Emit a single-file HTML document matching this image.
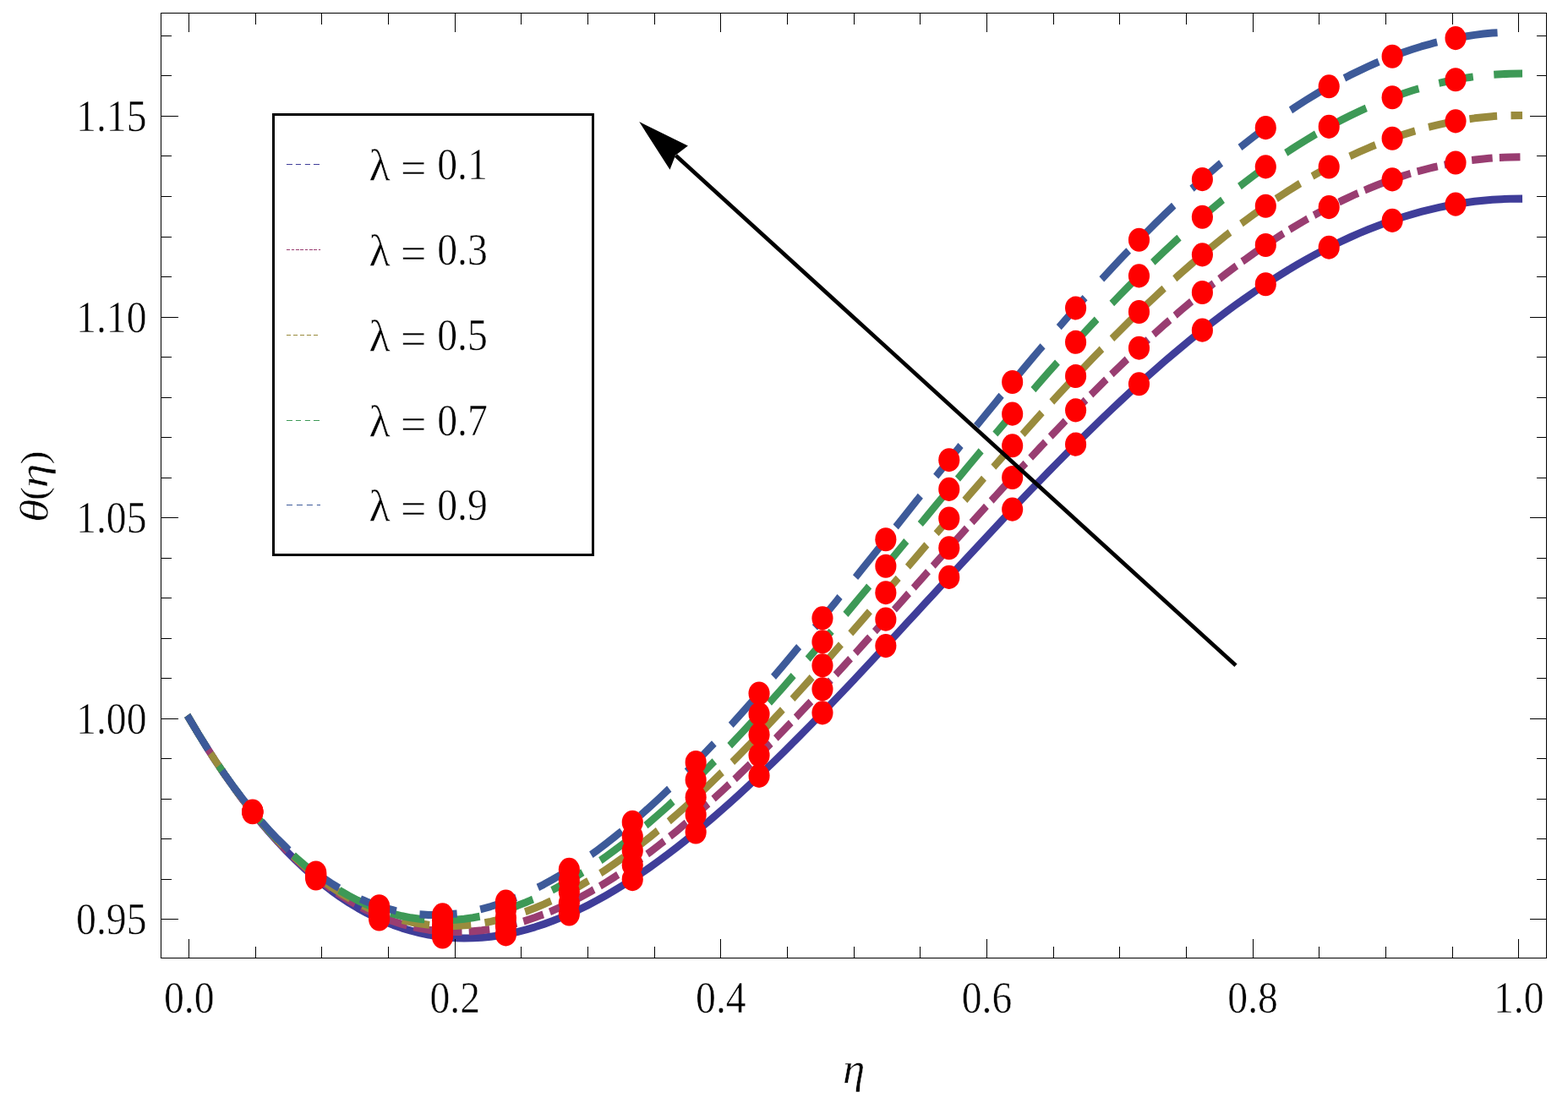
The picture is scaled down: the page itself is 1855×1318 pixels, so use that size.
<!DOCTYPE html>
<html lang="en"><head><meta charset="utf-8"><title>θ(η) for varying λ</title>
<style>html,body{margin:0;padding:0;background:#fff}body{width:1855px;height:1318px;overflow:hidden}svg{display:block}text{font-family:"Liberation Serif","DejaVu Serif",serif;fill:#000;stroke:#fff;stroke-width:.5px;paint-order:fill stroke}</style></head><body>
<svg width="1855" height="1318" viewBox="0 0 1855 1318" role="img" aria-label="Plot of θ(η) against η for λ = 0.1, 0.3, 0.5, 0.7, 0.9">
<rect width="1855" height="1318" fill="#fff"/>
<g transform="scale(1,1.1)" fill="none" stroke-width="8.2" stroke-linecap="square" stroke-linejoin="round">
<path d="M223.92 772.95 L234.41 788.97 L244.89 804.37 L255.38 819.15 L265.87 833.31 L276.35 846.87 L286.84 859.83 L297.33 872.20 L307.81 883.97 L318.30 895.17 L328.79 905.79 L339.27 915.85 L349.76 925.34 L360.25 934.29 L370.73 942.68 L381.22 950.54 L391.71 957.87 L402.19 964.67 L412.68 970.95 L423.17 976.73 L433.65 982.00 L444.14 986.78 L454.63 991.07 L465.11 994.88 L475.60 998.22 L486.09 1001.10 L496.57 1003.52 L507.06 1005.49 L517.55 1007.02 L528.03 1008.12 L538.52 1008.80 L549.01 1009.06 L559.49 1008.91 L569.98 1008.36 L580.47 1007.41 L590.95 1006.09 L601.44 1004.38 L611.93 1002.31 L622.41 999.88 L632.90 997.09 L643.39 993.97 L653.87 990.50 L664.36 986.71 L674.85 982.60 L685.33 978.18 L695.82 973.45 L706.31 968.44 L716.79 963.13 L727.28 957.55 L737.77 951.69 L748.25 945.58 L758.74 939.21 L769.23 932.59 L779.71 925.74 L790.20 918.66 L800.69 911.35 L811.17 903.84 L821.66 896.11 L832.15 888.19 L842.63 880.09 L853.12 871.80 L863.61 863.33 L874.09 854.70 L884.58 845.92 L895.07 836.98 L905.55 827.91 L916.04 818.70 L926.53 809.36 L937.01 799.90 L947.50 790.34 L957.99 780.67 L968.47 770.90 L978.96 761.05 L989.45 751.11 L999.93 741.10 L1010.42 731.03 L1020.91 720.89 L1031.39 710.71 L1041.88 700.48 L1052.37 690.21 L1062.85 679.92 L1073.34 669.60 L1083.83 659.26 L1094.31 648.91 L1104.80 638.56 L1115.29 628.22 L1125.77 617.89 L1136.26 607.57 L1146.75 597.28 L1157.23 587.01 L1167.72 576.79 L1178.21 566.60 L1188.69 556.47 L1199.18 546.39 L1209.67 536.37 L1220.15 526.42 L1230.64 516.54 L1241.13 506.74 L1251.61 497.02 L1262.10 487.39 L1272.59 477.86 L1283.07 468.43 L1293.56 459.11 L1304.05 449.90 L1314.53 440.80 L1325.02 431.82 L1335.51 422.97 L1345.99 414.26 L1356.48 405.67 L1366.97 397.23 L1377.45 388.93 L1387.94 380.79 L1398.43 372.79 L1408.91 364.96 L1419.40 357.28 L1429.89 349.77 L1440.37 342.44 L1450.86 335.27 L1461.35 328.28 L1471.83 321.48 L1482.32 314.85 L1492.81 308.42 L1503.29 302.17 L1513.78 296.12 L1524.27 290.27 L1534.75 284.61 L1545.24 279.16 L1555.73 273.91 L1566.21 268.87 L1576.70 264.04 L1587.19 259.42 L1597.67 255.01 L1608.16 250.82 L1618.65 246.85 L1629.13 243.10 L1639.62 239.56 L1650.11 236.25 L1660.59 233.17 L1671.08 230.31 L1681.57 227.67 L1692.05 225.27 L1702.54 223.09 L1713.03 221.14 L1723.51 219.41 L1734.00 217.92 L1744.49 216.66 L1754.97 215.63 L1765.46 214.82 L1775.95 214.25 L1786.43 213.91 L1796.92 213.79" stroke="#3F3D99"/>
<path d="M223.92 772.95 L234.41 788.97 L244.89 804.36 L255.38 819.10 L265.87 833.22 L276.35 846.70 L286.84 859.58 L297.33 871.84 L307.81 883.49 L318.30 894.55 L328.79 905.02 L339.27 914.91 L349.76 924.22 L360.25 932.97 L370.73 941.16 L381.22 948.79 L391.71 955.88 L402.19 962.43 L412.68 968.45 L423.17 973.95 L433.65 978.94 L444.14 983.42 L454.63 987.40 L465.11 990.89 L475.60 993.90 L486.09 996.44 L496.57 998.51 L507.06 1000.13 L517.55 1001.29 L528.03 1002.02 L538.52 1002.31 L549.01 1002.17 L559.49 1001.63 L569.98 1000.67 L580.47 999.32 L590.95 997.57 L601.44 995.44 L611.93 992.94 L622.41 990.07 L632.90 986.85 L643.39 983.28 L653.87 979.36 L664.36 975.12 L674.85 970.55 L685.33 965.67 L695.82 960.48 L706.31 955.00 L716.79 949.23 L727.28 943.17 L737.77 936.84 L748.25 930.25 L758.74 923.41 L769.23 916.32 L779.71 908.98 L790.20 901.42 L800.69 893.64 L811.17 885.64 L821.66 877.44 L832.15 869.05 L842.63 860.46 L853.12 851.69 L863.61 842.75 L874.09 833.65 L884.58 824.39 L895.07 814.98 L905.55 805.43 L916.04 795.75 L926.53 785.95 L937.01 776.03 L947.50 766.00 L957.99 755.87 L968.47 745.65 L978.96 735.34 L989.45 724.96 L999.93 714.50 L1010.42 703.99 L1020.91 693.41 L1031.39 682.79 L1041.88 672.13 L1052.37 661.44 L1062.85 650.72 L1073.34 639.98 L1083.83 629.23 L1094.31 618.47 L1104.80 607.72 L1115.29 596.97 L1125.77 586.24 L1136.26 575.53 L1146.75 564.85 L1157.23 554.21 L1167.72 543.61 L1178.21 533.05 L1188.69 522.55 L1199.18 512.11 L1209.67 501.74 L1220.15 491.44 L1230.64 481.21 L1241.13 471.08 L1251.61 461.03 L1262.10 451.07 L1272.59 441.22 L1283.07 431.48 L1293.56 421.84 L1304.05 412.33 L1314.53 402.93 L1325.02 393.67 L1335.51 384.53 L1345.99 375.53 L1356.48 366.68 L1366.97 357.97 L1377.45 349.41 L1387.94 341.01 L1398.43 332.76 L1408.91 324.68 L1419.40 316.77 L1429.89 309.03 L1440.37 301.47 L1450.86 294.09 L1461.35 286.88 L1471.83 279.87 L1482.32 273.05 L1492.81 266.42 L1503.29 259.98 L1513.78 253.75 L1524.27 247.72 L1534.75 241.90 L1545.24 236.28 L1555.73 230.88 L1566.21 225.68 L1576.70 220.71 L1587.19 215.95 L1597.67 211.41 L1608.16 207.10 L1618.65 203.01 L1629.13 199.14 L1639.62 195.50 L1650.11 192.09 L1660.59 188.92 L1671.08 185.97 L1681.57 183.25 L1692.05 180.77 L1702.54 178.53 L1713.03 176.52 L1723.51 174.74 L1734.00 173.20 L1744.49 171.90 L1754.97 170.83 L1765.46 170.01 L1775.95 169.42 L1786.43 169.06 L1796.92 168.94" stroke="#993D71" stroke-dasharray="16.4025 16.4025" stroke-dashoffset="0"/>
<path d="M223.92 772.95 L234.41 788.98 L244.89 804.34 L255.38 819.05 L265.87 833.12 L276.35 846.53 L286.84 859.32 L297.33 871.48 L307.81 883.01 L318.30 893.94 L328.79 904.25 L339.27 913.97 L349.76 923.11 L360.25 931.65 L370.73 939.63 L381.22 947.04 L391.71 953.89 L402.19 960.19 L412.68 965.95 L423.17 971.17 L433.65 975.87 L444.14 980.06 L454.63 983.73 L465.11 986.90 L475.60 989.58 L486.09 991.78 L496.57 993.50 L507.06 994.76 L517.55 995.56 L528.03 995.91 L538.52 995.82 L549.01 995.29 L559.49 994.35 L569.98 992.98 L580.47 991.22 L590.95 989.05 L601.44 986.50 L611.93 983.57 L622.41 980.27 L632.90 976.60 L643.39 972.59 L653.87 968.23 L664.36 963.53 L674.85 958.51 L685.33 953.16 L695.82 947.51 L706.31 941.56 L716.79 935.32 L727.28 928.80 L737.77 922.00 L748.25 914.93 L758.74 907.61 L769.23 900.04 L779.71 892.23 L790.20 884.19 L800.69 875.93 L811.17 867.45 L821.66 858.77 L832.15 849.90 L842.63 840.83 L853.12 831.59 L863.61 822.17 L874.09 812.59 L884.58 802.86 L895.07 792.98 L905.55 782.96 L916.04 772.81 L926.53 762.54 L937.01 752.16 L947.50 741.67 L957.99 731.08 L968.47 720.40 L978.96 709.64 L989.45 698.81 L999.93 687.91 L1010.42 676.95 L1020.91 665.93 L1031.39 654.88 L1041.88 643.79 L1052.37 632.66 L1062.85 621.52 L1073.34 610.36 L1083.83 599.20 L1094.31 588.03 L1104.80 576.87 L1115.29 565.72 L1125.77 554.60 L1136.26 543.50 L1146.75 532.43 L1157.23 521.41 L1167.72 510.43 L1178.21 499.50 L1188.69 488.64 L1199.18 477.84 L1209.67 467.11 L1220.15 456.46 L1230.64 445.89 L1241.13 435.42 L1251.61 425.03 L1262.10 414.75 L1272.59 404.58 L1283.07 394.52 L1293.56 384.58 L1304.05 374.76 L1314.53 365.07 L1325.02 355.51 L1335.51 346.09 L1345.99 336.81 L1356.48 327.68 L1366.97 318.70 L1377.45 309.88 L1387.94 301.22 L1398.43 292.73 L1408.91 284.41 L1419.40 276.26 L1429.89 268.29 L1440.37 260.50 L1450.86 252.90 L1461.35 245.49 L1471.83 238.27 L1482.32 231.24 L1492.81 224.42 L1503.29 217.80 L1513.78 211.38 L1524.27 205.18 L1534.75 199.18 L1545.24 193.40 L1555.73 187.84 L1566.21 182.50 L1576.70 177.38 L1587.19 172.48 L1597.67 167.81 L1608.16 163.37 L1618.65 159.16 L1629.13 155.19 L1639.62 151.44 L1650.11 147.93 L1660.59 144.66 L1671.08 141.63 L1681.57 138.83 L1692.05 136.28 L1702.54 133.97 L1713.03 131.90 L1723.51 130.07 L1734.00 128.48 L1744.49 127.14 L1754.97 126.04 L1765.46 125.19 L1775.95 124.58 L1786.43 124.21 L1796.92 124.09" stroke="#998B3D" stroke-dasharray="24.609 24.609" stroke-dashoffset="0"/>
<path d="M223.92 772.95 L234.41 788.98 L244.89 804.33 L255.38 819.01 L265.87 833.02 L276.35 846.36 L286.84 859.06 L297.33 871.11 L307.81 882.53 L318.30 893.32 L328.79 903.48 L339.27 913.04 L349.76 921.99 L360.25 930.34 L370.73 938.10 L381.22 945.29 L391.71 951.90 L402.19 957.95 L412.68 963.45 L423.17 968.40 L433.65 972.81 L444.14 976.69 L454.63 980.06 L465.11 982.91 L475.60 985.26 L486.09 987.12 L496.57 988.49 L507.06 989.39 L517.55 989.82 L528.03 989.80 L538.52 989.32 L549.01 988.41 L559.49 987.06 L569.98 985.30 L580.47 983.12 L590.95 980.54 L601.44 977.56 L611.93 974.20 L622.41 970.46 L632.90 966.36 L643.39 961.90 L653.87 957.09 L664.36 951.94 L674.85 946.46 L685.33 940.66 L695.82 934.54 L706.31 928.13 L716.79 921.42 L727.28 914.42 L737.77 907.15 L748.25 899.61 L758.74 891.81 L769.23 883.76 L779.71 875.48 L790.20 866.96 L800.69 858.22 L811.17 849.26 L821.66 840.10 L832.15 830.75 L842.63 821.21 L853.12 811.48 L863.61 801.59 L874.09 791.54 L884.58 781.33 L895.07 770.98 L905.55 760.49 L916.04 749.87 L926.53 739.13 L937.01 728.29 L947.50 717.33 L957.99 706.29 L968.47 695.15 L978.96 683.94 L989.45 672.66 L999.93 661.31 L1010.42 649.91 L1020.91 638.45 L1031.39 626.96 L1041.88 615.44 L1052.37 603.89 L1062.85 592.32 L1073.34 580.74 L1083.83 569.16 L1094.31 557.59 L1104.80 546.02 L1115.29 534.47 L1125.77 522.95 L1136.26 511.46 L1146.75 500.01 L1157.23 488.60 L1167.72 477.25 L1178.21 465.95 L1188.69 454.72 L1199.18 443.56 L1209.67 432.48 L1220.15 421.48 L1230.64 410.57 L1241.13 399.75 L1251.61 389.04 L1262.10 378.44 L1272.59 367.94 L1283.07 357.57 L1293.56 347.31 L1304.05 337.19 L1314.53 327.20 L1325.02 317.35 L1335.51 307.64 L1345.99 298.09 L1356.48 288.68 L1366.97 279.44 L1377.45 270.36 L1387.94 261.44 L1398.43 252.70 L1408.91 244.14 L1419.40 235.75 L1429.89 227.55 L1440.37 219.53 L1450.86 211.71 L1461.35 204.09 L1471.83 196.66 L1482.32 189.44 L1492.81 182.42 L1503.29 175.61 L1513.78 169.01 L1524.27 162.63 L1534.75 156.47 L1545.24 150.53 L1555.73 144.81 L1566.21 139.31 L1576.70 134.05 L1587.19 129.02 L1597.67 124.22 L1608.16 119.65 L1618.65 115.32 L1629.13 111.23 L1639.62 107.38 L1650.11 103.77 L1660.59 100.41 L1671.08 97.29 L1681.57 94.41 L1692.05 91.79 L1702.54 89.41 L1713.03 87.27 L1723.51 85.39 L1734.00 83.76 L1744.49 82.38 L1754.97 81.25 L1765.46 80.37 L1775.95 79.74 L1786.43 79.37 L1796.92 79.24" stroke="#3D9956" stroke-dasharray="32.815 32.815" stroke-dashoffset="0"/>
<path d="M223.92 772.95 L234.41 788.98 L244.89 804.32 L255.38 818.96 L265.87 832.92 L276.35 846.20 L286.84 858.81 L297.33 870.75 L307.81 882.05 L318.30 892.70 L328.79 902.71 L339.27 912.10 L349.76 920.87 L360.25 929.02 L370.73 936.58 L381.22 943.54 L391.71 949.91 L402.19 955.71 L412.68 960.94 L423.17 965.62 L433.65 969.75 L444.14 973.33 L454.63 976.39 L465.11 978.92 L475.60 980.94 L486.09 982.46 L496.57 983.49 L507.06 984.03 L517.55 984.09 L528.03 983.69 L538.52 982.83 L549.01 981.53 L559.49 979.78 L569.98 977.61 L580.47 975.02 L590.95 972.02 L601.44 968.62 L611.93 964.83 L622.41 960.66 L632.90 956.12 L643.39 951.21 L653.87 945.95 L664.36 940.35 L674.85 934.41 L685.33 928.15 L695.82 921.57 L706.31 914.69 L716.79 907.51 L727.28 900.04 L737.77 892.30 L748.25 884.29 L758.74 876.01 L769.23 867.49 L779.71 858.72 L790.20 849.73 L800.69 840.51 L811.17 831.07 L821.66 821.44 L832.15 811.60 L842.63 801.58 L853.12 791.38 L863.61 781.01 L874.09 770.48 L884.58 759.80 L895.07 748.97 L905.55 738.01 L916.04 726.93 L926.53 715.73 L937.01 704.41 L947.50 693.00 L957.99 681.49 L968.47 669.90 L978.96 658.24 L989.45 646.50 L999.93 634.71 L1010.42 622.86 L1020.91 610.97 L1031.39 599.05 L1041.88 587.09 L1052.37 575.11 L1062.85 563.12 L1073.34 551.13 L1083.83 539.13 L1094.31 527.14 L1104.80 515.17 L1115.29 503.23 L1125.77 491.31 L1136.26 479.43 L1146.75 467.59 L1157.23 455.80 L1167.72 444.07 L1178.21 432.40 L1188.69 420.81 L1199.18 409.29 L1209.67 397.85 L1220.15 386.50 L1230.64 375.25 L1241.13 364.09 L1251.61 353.05 L1262.10 342.12 L1272.59 331.30 L1283.07 320.61 L1293.56 310.05 L1304.05 299.62 L1314.53 289.33 L1325.02 279.19 L1335.51 269.20 L1345.99 259.36 L1356.48 249.69 L1366.97 240.18 L1377.45 230.83 L1387.94 221.66 L1398.43 212.67 L1408.91 203.86 L1419.40 195.24 L1429.89 186.81 L1440.37 178.57 L1450.86 170.53 L1461.35 162.69 L1471.83 155.05 L1482.32 147.63 L1492.81 140.42 L1503.29 133.42 L1513.78 126.64 L1524.27 120.09 L1534.75 113.75 L1545.24 107.65 L1555.73 101.77 L1566.21 96.13 L1576.70 90.72 L1587.19 85.55 L1597.67 80.62 L1608.16 75.93 L1618.65 71.48 L1629.13 67.28 L1639.62 63.32 L1650.11 59.61 L1660.59 56.15 L1671.08 52.95 L1681.57 49.99 L1692.05 47.29 L1702.54 44.84 L1713.03 42.65 L1723.51 40.72 L1734.00 39.04 L1744.49 37.62 L1754.97 36.46 L1765.46 35.55 L1775.95 34.91 L1786.43 34.52 L1796.92 34.39" stroke="#3D5A99" stroke-dasharray="36.113 36.113" stroke-dashoffset="0"/>
</g>
<g fill="#f00">
<ellipse cx="298.82" cy="961.31" rx="12.55" ry="14.05"/>
<ellipse cx="298.82" cy="960.89" rx="12.55" ry="14.05"/>
<ellipse cx="298.82" cy="960.48" rx="12.55" ry="14.05"/>
<ellipse cx="298.82" cy="960.06" rx="12.55" ry="14.05"/>
<ellipse cx="298.82" cy="959.65" rx="12.55" ry="14.05"/>
<ellipse cx="373.73" cy="1039.48" rx="12.55" ry="14.05"/>
<ellipse cx="373.73" cy="1037.73" rx="12.55" ry="14.05"/>
<ellipse cx="373.73" cy="1035.98" rx="12.55" ry="14.05"/>
<ellipse cx="373.73" cy="1034.24" rx="12.55" ry="14.05"/>
<ellipse cx="373.73" cy="1032.49" rx="12.55" ry="14.05"/>
<ellipse cx="448.63" cy="1087.54" rx="12.55" ry="14.05"/>
<ellipse cx="448.63" cy="1083.70" rx="12.55" ry="14.05"/>
<ellipse cx="448.63" cy="1079.86" rx="12.55" ry="14.05"/>
<ellipse cx="448.63" cy="1076.02" rx="12.55" ry="14.05"/>
<ellipse cx="448.63" cy="1072.18" rx="12.55" ry="14.05"/>
<ellipse cx="523.54" cy="1108.48" rx="12.55" ry="14.05"/>
<ellipse cx="523.54" cy="1101.93" rx="12.55" ry="14.05"/>
<ellipse cx="523.54" cy="1095.39" rx="12.55" ry="14.05"/>
<ellipse cx="523.54" cy="1088.85" rx="12.55" ry="14.05"/>
<ellipse cx="523.54" cy="1082.31" rx="12.55" ry="14.05"/>
<ellipse cx="598.44" cy="1105.40" rx="12.55" ry="14.05"/>
<ellipse cx="598.44" cy="1095.70" rx="12.55" ry="14.05"/>
<ellipse cx="598.44" cy="1086.00" rx="12.55" ry="14.05"/>
<ellipse cx="598.44" cy="1076.30" rx="12.55" ry="14.05"/>
<ellipse cx="598.44" cy="1066.60" rx="12.55" ry="14.05"/>
<ellipse cx="673.35" cy="1081.53" rx="12.55" ry="14.05"/>
<ellipse cx="673.35" cy="1068.35" rx="12.55" ry="14.05"/>
<ellipse cx="673.35" cy="1055.17" rx="12.55" ry="14.05"/>
<ellipse cx="673.35" cy="1041.99" rx="12.55" ry="14.05"/>
<ellipse cx="673.35" cy="1028.81" rx="12.55" ry="14.05"/>
<ellipse cx="748.25" cy="1040.13" rx="12.55" ry="14.05"/>
<ellipse cx="748.25" cy="1023.28" rx="12.55" ry="14.05"/>
<ellipse cx="748.25" cy="1006.42" rx="12.55" ry="14.05"/>
<ellipse cx="748.25" cy="989.57" rx="12.55" ry="14.05"/>
<ellipse cx="748.25" cy="972.71" rx="12.55" ry="14.05"/>
<ellipse cx="823.16" cy="984.49" rx="12.55" ry="14.05"/>
<ellipse cx="823.16" cy="963.88" rx="12.55" ry="14.05"/>
<ellipse cx="823.16" cy="943.27" rx="12.55" ry="14.05"/>
<ellipse cx="823.16" cy="922.66" rx="12.55" ry="14.05"/>
<ellipse cx="823.16" cy="902.05" rx="12.55" ry="14.05"/>
<ellipse cx="898.06" cy="917.84" rx="12.55" ry="14.05"/>
<ellipse cx="898.06" cy="893.49" rx="12.55" ry="14.05"/>
<ellipse cx="898.06" cy="869.14" rx="12.55" ry="14.05"/>
<ellipse cx="898.06" cy="844.79" rx="12.55" ry="14.05"/>
<ellipse cx="898.06" cy="820.44" rx="12.55" ry="14.05"/>
<ellipse cx="972.97" cy="843.36" rx="12.55" ry="14.05"/>
<ellipse cx="972.97" cy="815.37" rx="12.55" ry="14.05"/>
<ellipse cx="972.97" cy="787.38" rx="12.55" ry="14.05"/>
<ellipse cx="972.97" cy="759.39" rx="12.55" ry="14.05"/>
<ellipse cx="972.97" cy="731.41" rx="12.55" ry="14.05"/>
<ellipse cx="1047.87" cy="764.08" rx="12.55" ry="14.05"/>
<ellipse cx="1047.87" cy="732.63" rx="12.55" ry="14.05"/>
<ellipse cx="1047.87" cy="701.18" rx="12.55" ry="14.05"/>
<ellipse cx="1047.87" cy="669.73" rx="12.55" ry="14.05"/>
<ellipse cx="1047.87" cy="638.27" rx="12.55" ry="14.05"/>
<ellipse cx="1122.78" cy="682.92" rx="12.55" ry="14.05"/>
<ellipse cx="1122.78" cy="648.24" rx="12.55" ry="14.05"/>
<ellipse cx="1122.78" cy="613.55" rx="12.55" ry="14.05"/>
<ellipse cx="1122.78" cy="578.86" rx="12.55" ry="14.05"/>
<ellipse cx="1122.78" cy="544.18" rx="12.55" ry="14.05"/>
<ellipse cx="1197.68" cy="602.61" rx="12.55" ry="14.05"/>
<ellipse cx="1197.68" cy="564.96" rx="12.55" ry="14.05"/>
<ellipse cx="1197.68" cy="527.31" rx="12.55" ry="14.05"/>
<ellipse cx="1197.68" cy="489.67" rx="12.55" ry="14.05"/>
<ellipse cx="1197.68" cy="452.02" rx="12.55" ry="14.05"/>
<ellipse cx="1272.59" cy="525.65" rx="12.55" ry="14.05"/>
<ellipse cx="1272.59" cy="485.35" rx="12.55" ry="14.05"/>
<ellipse cx="1272.59" cy="445.04" rx="12.55" ry="14.05"/>
<ellipse cx="1272.59" cy="404.74" rx="12.55" ry="14.05"/>
<ellipse cx="1272.59" cy="364.43" rx="12.55" ry="14.05"/>
<ellipse cx="1347.49" cy="454.32" rx="12.55" ry="14.05"/>
<ellipse cx="1347.49" cy="411.69" rx="12.55" ry="14.05"/>
<ellipse cx="1347.49" cy="369.05" rx="12.55" ry="14.05"/>
<ellipse cx="1347.49" cy="326.41" rx="12.55" ry="14.05"/>
<ellipse cx="1347.49" cy="283.77" rx="12.55" ry="14.05"/>
<ellipse cx="1422.40" cy="390.63" rx="12.55" ry="14.05"/>
<ellipse cx="1422.40" cy="346.00" rx="12.55" ry="14.05"/>
<ellipse cx="1422.40" cy="301.36" rx="12.55" ry="14.05"/>
<ellipse cx="1422.40" cy="256.73" rx="12.55" ry="14.05"/>
<ellipse cx="1422.40" cy="212.09" rx="12.55" ry="14.05"/>
<ellipse cx="1497.30" cy="336.29" rx="12.55" ry="14.05"/>
<ellipse cx="1497.30" cy="290.00" rx="12.55" ry="14.05"/>
<ellipse cx="1497.30" cy="243.71" rx="12.55" ry="14.05"/>
<ellipse cx="1497.30" cy="197.42" rx="12.55" ry="14.05"/>
<ellipse cx="1497.30" cy="151.13" rx="12.55" ry="14.05"/>
<ellipse cx="1572.21" cy="292.69" rx="12.55" ry="14.05"/>
<ellipse cx="1572.21" cy="245.10" rx="12.55" ry="14.05"/>
<ellipse cx="1572.21" cy="197.50" rx="12.55" ry="14.05"/>
<ellipse cx="1572.21" cy="149.91" rx="12.55" ry="14.05"/>
<ellipse cx="1572.21" cy="102.31" rx="12.55" ry="14.05"/>
<ellipse cx="1647.11" cy="260.90" rx="12.55" ry="14.05"/>
<ellipse cx="1647.11" cy="212.35" rx="12.55" ry="14.05"/>
<ellipse cx="1647.11" cy="163.80" rx="12.55" ry="14.05"/>
<ellipse cx="1647.11" cy="115.26" rx="12.55" ry="14.05"/>
<ellipse cx="1647.11" cy="66.71" rx="12.55" ry="14.05"/>
<ellipse cx="1722.02" cy="241.61" rx="12.55" ry="14.05"/>
<ellipse cx="1722.02" cy="192.48" rx="12.55" ry="14.05"/>
<ellipse cx="1722.02" cy="143.34" rx="12.55" ry="14.05"/>
<ellipse cx="1722.02" cy="94.21" rx="12.55" ry="14.05"/>
<ellipse cx="1722.02" cy="45.08" rx="12.55" ry="14.05"/>
</g>
<g stroke="#000" stroke-width="1" fill="none" stroke-linecap="butt">
<rect x="190.5" y="15.5" width="1639" height="1118"/>
<path d="M223.5 1133.5 v-22.5 M223.5 15.5 v22.5 M302.5 1133.5 v-13.5 M302.5 15.5 v13.5 M380.5 1133.5 v-13.5 M380.5 15.5 v13.5 M459.5 1133.5 v-13.5 M459.5 15.5 v13.5 M538.5 1133.5 v-22.5 M538.5 15.5 v22.5 M616.5 1133.5 v-13.5 M616.5 15.5 v13.5 M695.5 1133.5 v-13.5 M695.5 15.5 v13.5 M774.5 1133.5 v-13.5 M774.5 15.5 v13.5 M852.5 1133.5 v-22.5 M852.5 15.5 v22.5 M931.5 1133.5 v-13.5 M931.5 15.5 v13.5 M1010.5 1133.5 v-13.5 M1010.5 15.5 v13.5 M1088.5 1133.5 v-13.5 M1088.5 15.5 v13.5 M1167.5 1133.5 v-22.5 M1167.5 15.5 v22.5 M1246.5 1133.5 v-13.5 M1246.5 15.5 v13.5 M1324.5 1133.5 v-13.5 M1324.5 15.5 v13.5 M1403.5 1133.5 v-13.5 M1403.5 15.5 v13.5 M1482.5 1133.5 v-22.5 M1482.5 15.5 v22.5 M1560.5 1133.5 v-13.5 M1560.5 15.5 v13.5 M1639.5 1133.5 v-13.5 M1639.5 15.5 v13.5 M1718.5 1133.5 v-13.5 M1718.5 15.5 v13.5 M1796.5 1133.5 v-22.5 M1796.5 15.5 v22.5 M190.5 1087.5 h20.5 M1829.5 1087.5 h-19.5 M190.5 1040.5 h12.5 M1829.5 1040.5 h-11.5 M190.5 992.5 h12.5 M1829.5 992.5 h-11.5 M190.5 945.5 h12.5 M1829.5 945.5 h-11.5 M190.5 897.5 h12.5 M1829.5 897.5 h-11.5 M190.5 850.5 h20.5 M1829.5 850.5 h-19.5 M190.5 802.5 h12.5 M1829.5 802.5 h-11.5 M190.5 755.5 h12.5 M1829.5 755.5 h-11.5 M190.5 707.5 h12.5 M1829.5 707.5 h-11.5 M190.5 660.5 h12.5 M1829.5 660.5 h-11.5 M190.5 612.5 h20.5 M1829.5 612.5 h-19.5 M190.5 565.5 h12.5 M1829.5 565.5 h-11.5 M190.5 517.5 h12.5 M1829.5 517.5 h-11.5 M190.5 470.5 h12.5 M1829.5 470.5 h-11.5 M190.5 422.5 h12.5 M1829.5 422.5 h-11.5 M190.5 375.5 h20.5 M1829.5 375.5 h-19.5 M190.5 327.5 h12.5 M1829.5 327.5 h-11.5 M190.5 280.5 h12.5 M1829.5 280.5 h-11.5 M190.5 232.5 h12.5 M1829.5 232.5 h-11.5 M190.5 184.5 h12.5 M1829.5 184.5 h-11.5 M190.5 137.5 h20.5 M1829.5 137.5 h-19.5 M190.5 89.5 h12.5 M1829.5 89.5 h-11.5 M190.5 42.5 h12.5 M1829.5 42.5 h-11.5"/>
</g>
<text transform="translate(223.7,1198.2) scale(1,1.09)" font-size="47.7" text-anchor="middle">0.0</text>
<text transform="translate(538.3,1198.2) scale(1,1.09)" font-size="47.7" text-anchor="middle">0.2</text>
<text transform="translate(852.9,1198.2) scale(1,1.09)" font-size="47.7" text-anchor="middle">0.4</text>
<text transform="translate(1167.5,1198.2) scale(1,1.09)" font-size="47.7" text-anchor="middle">0.6</text>
<text transform="translate(1482.1,1198.2) scale(1,1.09)" font-size="47.7" text-anchor="middle">0.8</text>
<text transform="translate(1796.7,1198.2) scale(1,1.09)" font-size="47.7" text-anchor="middle">1.0</text>
<text transform="translate(173.5,1105.3) scale(1,1.09)" font-size="47.7" text-anchor="end">0.95</text>
<text transform="translate(173.5,867.7) scale(1,1.09)" font-size="47.7" text-anchor="end">1.00</text>
<text transform="translate(173.5,630.1) scale(1,1.09)" font-size="47.7" text-anchor="end">1.05</text>
<text transform="translate(173.5,392.5) scale(1,1.09)" font-size="47.7" text-anchor="end">1.10</text>
<text transform="translate(173.5,154.9) scale(1,1.09)" font-size="47.7" text-anchor="end">1.15</text>
<text transform="translate(996.99,1280.90) scale(1.02,0.99)" font-size="52" font-style="italic">η</text>
<g>
<text transform="translate(56.60,615.20) rotate(-90) scale(1.17,1)" font-size="47.7" font-style="italic" x="-2.34">θ</text>
<text transform="translate(54.90,590.00) rotate(-90) scale(1.09,1)" font-size="44.2" x="-1.94">(</text>
<text transform="translate(56.00,575.10) rotate(-90) scale(1.21,1)" font-size="47.7" font-style="italic" x="-1.72">η</text>
<text transform="translate(54.90,548.00) rotate(-90) scale(1.09,1)" font-size="44.2" x="-1.41">)</text>
</g>
<rect x="323.5" y="135.5" width="378" height="521" fill="#fff" stroke="#000" stroke-width="3"/>
<path d="M338.96 194.5 H345.94 M349.9 194.5 H356 M360.85 194.5 H366.96 M370.96 194.5 H378" stroke="#3F3D99" stroke-width="1" fill="none"/>
<text transform="translate(436.54,212.50) scale(1.1,1.09)" font-size="47.7">λ</text>
<text transform="translate(474.05,217.80) scale(1.04,1.09)" font-size="52">=</text>
<text transform="translate(517.19,211.90) scale(1,1.09)" font-size="47.7">0.1</text>
<path d="M338.96 295.5 H343.04 M344.9 295.5 H348.1 M349.9 295.5 H354 M355 295.5 H359.1 M360.85 295.5 H364.06 M365.9 295.5 H370 M371 295.5 H375.1 M376.9 295.5 H379.15" stroke="#993D71" stroke-width="1" fill="none"/>
<text transform="translate(436.54,313.50) scale(1.1,1.09)" font-size="47.7">λ</text>
<text transform="translate(474.05,318.80) scale(1.04,1.09)" font-size="52">=</text>
<text transform="translate(517.19,312.90) scale(1,1.09)" font-size="47.7">0.3</text>
<path d="M338.96 396.5 H344.06 M347 396.5 H352.06 M355 396.5 H360 M362.9 396.5 H368 M370.96 396.5 H376.06" stroke="#998B3D" stroke-width="1" fill="none"/>
<text transform="translate(436.54,414.50) scale(1.1,1.09)" font-size="47.7">λ</text>
<text transform="translate(474.05,419.80) scale(1.04,1.09)" font-size="52">=</text>
<text transform="translate(517.19,413.90) scale(1,1.09)" font-size="47.7">0.5</text>
<path d="M338.96 497.5 H345.94 M349.9 497.5 H356 M360.85 497.5 H366.96 M370.96 497.5 H378" stroke="#3D9956" stroke-width="1" fill="none"/>
<text transform="translate(436.54,515.50) scale(1.1,1.09)" font-size="47.7">λ</text>
<text transform="translate(474.05,520.80) scale(1.04,1.09)" font-size="52">=</text>
<text transform="translate(517.19,514.90) scale(1,1.09)" font-size="47.7">0.7</text>
<path d="M338.96 597.5 H345.94 M350.96 597.5 H357.94 M362.9 597.5 H369.9 M374.9 597.5 H379" stroke="#3D5A99" stroke-width="1" fill="none"/>
<text transform="translate(436.54,615.50) scale(1.1,1.09)" font-size="47.7">λ</text>
<text transform="translate(474.05,620.80) scale(1.04,1.09)" font-size="52">=</text>
<text transform="translate(517.19,614.90) scale(1,1.09)" font-size="47.7">0.9</text>
<path d="M1462 787.3 L799.5 184" stroke="#000" stroke-width="4.7" fill="none"/>
<path d="M756.2 144.1 L813.9 172.6 L799.1 183.7 L792.5 200.8 Z" fill="#000"/>
</svg></body></html>
